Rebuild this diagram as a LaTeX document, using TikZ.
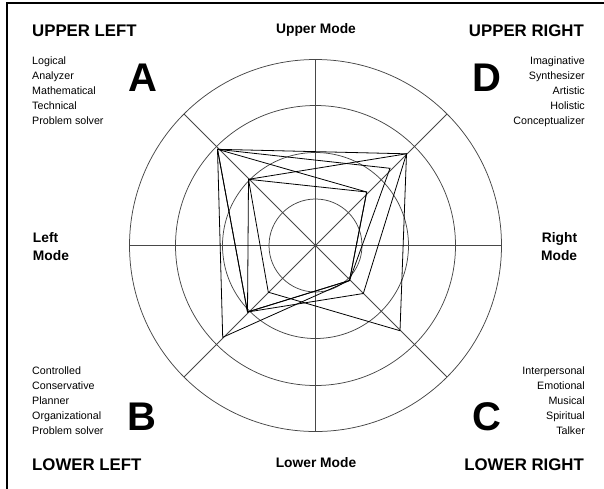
\documentclass[tikz,border=0pt]{standalone}
\usepackage{fontspec}
\setmainfont{Liberation Sans}
\begin{document}
\begin{tikzpicture}[x=1pt,y=-1pt,
  gridline/.style={draw=black!72, line width=0.75pt},
  prof/.style={draw=black, line width=0.8pt, line join=miter},
  corner/.style={font=\fontsize{16.8}{17}\selectfont\bfseries, inner sep=0pt},
  trait/.style={font=\fontsize{10.7}{13}\selectfont, inner sep=0pt},
  letter/.style={font=\fontsize{40}{40}\selectfont\bfseries, inner sep=0pt},
  modelab/.style={font=\fontsize{13.8}{16}\selectfont\bfseries, inner sep=0pt}]
\useasboundingbox (0,0) rectangle (604,488);
\draw[line width=1.8pt] (6.7,3.3) rectangle (610,495);
% grid
\coordinate (O) at (315.5,245.5);
\foreach \r in {46.5,93,140,186} \draw[gridline] (O) circle (\r);
\foreach \a in {0,45,...,315} \draw[gridline] (O) -- ++(\a:186);
% profile vertices
\coordinate (A1) at (217.5,149.3);
\coordinate (A2) at (248.5,179.3);
\coordinate (D1) at (406.5,153.8);
\coordinate (D2) at (390,168.3);
\coordinate (D3) at (366.7,192);
\coordinate (C1) at (400,330.7);
\coordinate (C2) at (363.3,293.5);
\coordinate (C3) at (349.5,280.5);
\coordinate (B1) at (222.7,337.3);
\coordinate (B2) at (247.5,312);
\coordinate (B3) at (268.3,292.2);
\draw[prof] (A2) -- (D1) -- (C1) -- (B3) -- cycle;
\draw[prof] (A1) -- (D3) -- (C3) -- (B1) -- cycle;
\draw[prof] (A1) -- (D1) -- (C2) -- (B2) -- cycle;
\draw[prof] (A1) -- (D2) -- (C3) -- (B2) -- cycle;
\draw[prof] (A2) -- (D3) -- (C3) -- (B2) -- cycle;
% corner titles
\node[corner, anchor=base west] (ul) at (32,36.7) {UPPER LEFT};
\node[corner, anchor=base east] (ur) at (584,36.7) {UPPER RIGHT};
\node[corner, anchor=base west] (ll) at (32,470.7) {LOWER LEFT};
\node[corner, anchor=base east] (lr) at (584,470.7) {LOWER RIGHT};
% letters
\node[letter, anchor=base] (la) at (143,91) {A};
\node[letter, anchor=base] (ld) at (487,91) {D};
\node[letter, anchor=base] (lb) at (141.5,430.3) {B};
\node[letter, anchor=base] (lc) at (487,430.5) {C};
% trait lists
\foreach \t [count=\i] in {Logical,Analyzer,Mathematical,Technical,Problem solver}
  \node[trait, anchor=base west] (tul\i) at (32,{49+15*\i}) {\t};
\foreach \t [count=\i] in {Imaginative,Synthesizer,Artistic,Holistic,Conceptualizer}
  \node[trait, anchor=base east] (tur\i) at (585,{49+15*\i}) {\t};
\foreach \t [count=\i] in {Controlled,Conservative,Planner,Organizational,Problem solver}
  \node[trait, anchor=base west] (tll\i) at (32,{359.3+15*\i}) {\t};
\foreach \t [count=\i] in {Interpersonal,Emotional,Musical,Spiritual,Talker}
  \node[trait, anchor=base east] (tlr\i) at (585,{359.3+15*\i}) {\t};
% mode labels
\node[modelab, anchor=base] (um) at (316,33.3) {Upper Mode};
\node[modelab, anchor=base] (lm) at (316,467.3) {Lower Mode};
\node[modelab, anchor=base west] (lm1) at (32.7,242.3) {Left};
\node[modelab, anchor=base west] (lm2) at (32.7,260) {Mode};
\node[modelab, anchor=base east] (rm1) at (577.3,242) {Right};
\node[modelab, anchor=base east] (rm2) at (577.3,260) {Mode};
\end{tikzpicture}
\end{document}
